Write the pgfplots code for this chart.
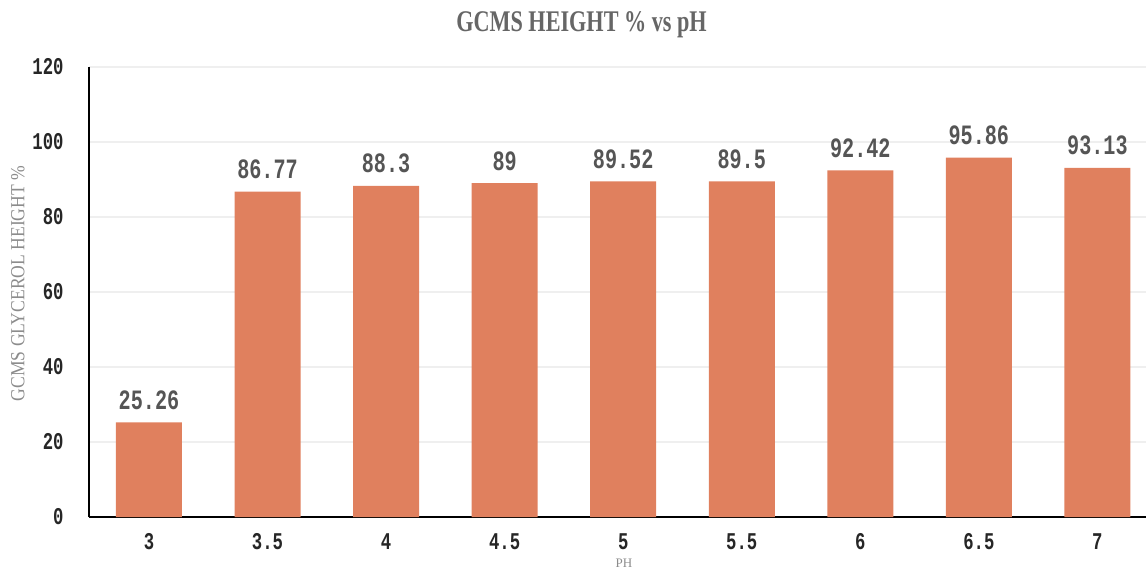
\documentclass[border=0pt]{standalone}
\usepackage{fontspec}
\setmainfont{Liberation Serif}
\newfontfamily\monofont[FakeStretch=0.72]{Liberation Mono}
\newfontfamily\titlefont[FakeStretch=0.74]{Liberation Serif}
\newfontfamily\ylabfont[FakeStretch=0.88]{Liberation Serif}
\usepackage{pgfplots}
\pgfplotsset{compat=1.18}
\definecolor{barc}{HTML}{E0805E}
\definecolor{gridc}{HTML}{EFEFEF}
\definecolor{labc}{HTML}{555555}
\begin{document}
\begin{tikzpicture}
\path[use as bounding box] (0,0) rectangle (573pt,289.5pt);
\begin{axis}[
  at={(44.5pt,31pt)}, anchor=south west,
  scale only axis, width=528.5pt, height=225pt,
  xmin=-0.506, xmax=8.41, ymin=0, ymax=120,
  ytick={0,20,...,120},
  xtick={0,...,8},
  xticklabels={3,3.5,4,4.5,5,5.5,6,6.5,7},
  axis x line*=bottom, axis y line*=left,
  axis line style={black, line width=1pt},
  x axis line style={-}, y axis line style={-},
  major tick length=0pt,
  ymajorgrids, grid style={gridc, line width=1pt},
  /pgf/number format/assume math mode=true,
  ticklabel style={font=\monofont\bfseries\fontsize{12}{12}\selectfont, text=black!85},
  yticklabel style={anchor=east, inner sep=0pt, xshift=-12.5pt},
  xticklabel style={anchor=base, inner sep=0pt, yshift=-16pt},
  ylabel={GCMS GLYCEROL HEIGHT \%},
  ylabel style={at={(axis description cs:-0.0672,0.519)}, anchor=center, rotate=0, font=\ylabfont\fontsize{10}{10}\selectfont, text=black!45},
  xlabel={PH},
  xlabel style={at={(axis description cs:0.506,-0.102)}, anchor=center, font=\fontsize{6.5}{6.5}\selectfont, text=black!45},
  title={\bfseries GCMS HEIGHT \% vs pH},
  title style={at={(axis description cs:0.466,1.067)}, anchor=center, font=\titlefont\fontsize{15}{15}\selectfont, text=black!60},
  clip=false,
]
\addplot[ybar, bar width=33pt, fill=barc, draw=none,
  point meta=explicit symbolic,
  nodes near coords,
  every node near coord/.style={anchor=base, inner sep=0pt, yshift=6.5pt, font=\monofont\bfseries\fontsize{14}{14}\selectfont, text=labc}]
  table[meta=lab] {
x y lab
0 25.26 25.26
1 86.77 86.77
2 88.3 88.3
3 89 89
4 89.52 89.52
5 89.5 89.5
6 92.42 92.42
7 95.86 95.86
8 93.13 93.13
};
\end{axis}
\end{tikzpicture}
\end{document}
